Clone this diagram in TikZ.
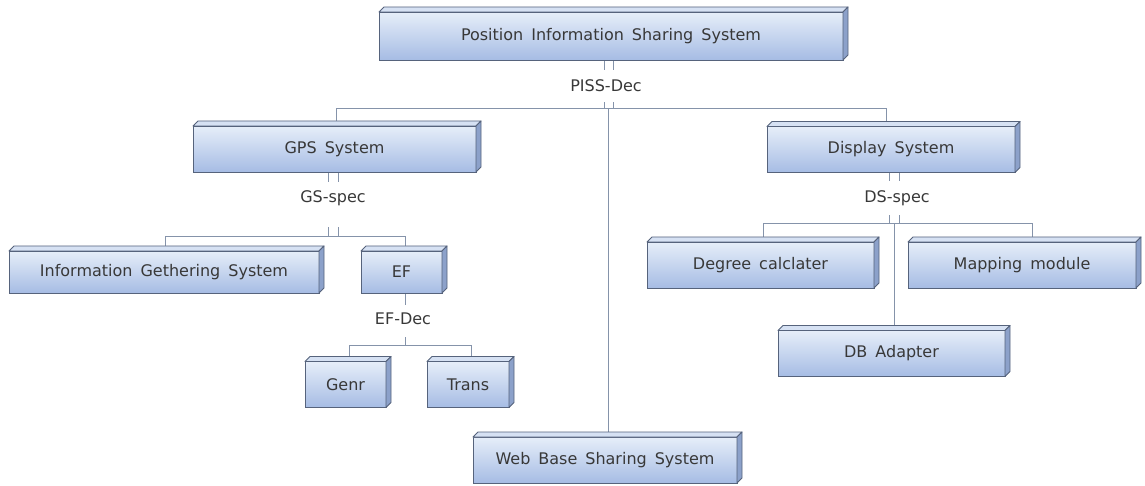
\documentclass[tikz,border=0pt]{standalone}
\usepackage{fontspec}
\setmainfont{DejaVu Sans}
\usetikzlibrary{calc}
\pgfdeclarelayer{bg}\pgfsetlayers{bg,main}
\definecolor{fronttop}{HTML}{E6EEF9}
\definecolor{frontbot}{HTML}{A6BCE4}
\definecolor{topc}{HTML}{D6E1F3}
\definecolor{sidec}{HTML}{8CA1CA}
\definecolor{edge}{HTML}{56637C}
\definecolor{linec}{HTML}{8593AA}
\definecolor{txt}{HTML}{383838}
\newcommand\cubefaces[1]{%
  \filldraw[fill=topc,draw=edge,line width=0.9pt,line join=round] (#1.north west) -- ++(5,-5) -- ($(#1.north east)+(5,-5)$) -- (#1.north east) -- cycle;
  \filldraw[fill=sidec,draw=edge,line width=0.9pt,line join=round] (#1.north east) -- ++(5,-5) -- ($(#1.south east)+(5,-5)$) -- (#1.south east) -- cycle;}
\newcommand\boxfont{\fontsize{16}{19}\selectfont\spaceskip=8pt plus 1pt\relax}
\newcommand\labfont{\fontsize{16}{19}\selectfont}
\begin{document}
\begin{tikzpicture}[x=1pt,y=-1pt,
  box/.style={draw=edge, line width=0.9pt, top color=fronttop, bottom color=frontbot,
    minimum height=46, inner sep=0, outer sep=0, text=txt, font=\boxfont},
  lab/.style={text=txt, inner sep=0, font=\labfont},
  conn/.style={draw=linec, line width=1pt}]
\useasboundingbox (0,0) rectangle (1145,486);
% boxes
\node[box, minimum width=464, minimum height=48] (piss) at (611,36) {Position Information Sharing System};
\node[box, minimum width=283] (gps) at (334.5,149) {GPS System};
\node[box, minimum width=248] (disp) at (891,149.5) {Display System};
\node[box, minimum width=310, minimum height=42] (igs) at (164,272) {Information Gethering System};
\node[box, minimum width=81, minimum height=42] (ef) at (401.5,272) {EF};
\node[box, minimum width=81] (genr) at (345.5,384.5) {Genr};
\node[box, minimum width=82] (trans) at (468,384.5) {Trans};
\node[box, minimum width=227] (deg) at (760.5,265) {Degree calclater};
\node[box, minimum width=228] (map) at (1022,265) {Mapping module};
\node[box, minimum width=227] (dba) at (891.5,353.5) {DB Adapter};
\node[box, minimum width=264] (web) at (605,460) {Web Base Sharing System};
\foreach \n in {piss,gps,disp,igs,ef,genr,trans,deg,map,dba,web} {\cubefaces{\n}}
% labels
\node[lab] (pissdec) at (606,86) {PISS-Dec};
\node[lab] (gsspec) at (333,198) {GS-spec};
\node[lab] (efdec) at (403,319) {EF-Dec};
\node[lab] (dsspec) at (897,198) {DS-spec};
% connectors
\begin{pgfonlayer}{bg}
\coordinate (pb) at (608.5,109);
\coordinate (pbl) at (336,109);
\coordinate (pbr) at (886,109);
\draw[conn] (gps.north -| pbl) -- (pbl) -- (pbr) -- (disp.north -| pbr);
\draw[conn] (pb) -- (web.north -| pb);
\foreach \dx in {-4.5,4.5} {
  \draw[conn] ($(piss.south -| pb)+(\dx,0)$) -- ++(0,10);
  \draw[conn] ($(pb)+(\dx,0)$) -- ++(0,-7);
}
\coordinate (gb) at (333,237);
\coordinate (gbl) at (165,237);
\coordinate (gbr) at (405,237);
\draw[conn] (igs.north -| gbl) -- (gbl) -- (gbr) -- (ef.north -| gbr);
\foreach \dx in {-5,5} {
  \draw[conn] ($(gps.south -| gb)+(\dx,0)$) -- ++(0,10);
  \draw[conn] ($(gb)+(\dx,0)$) -- ++(0,-10);
}
\coordinate (eb) at (405,345);
\coordinate (ebl) at (349,345);
\coordinate (ebr) at (471,345);
\draw[conn] (ef.south -| eb) -- ++(0,12);
\draw[conn] (eb) -- ++(0,-8);
\draw[conn] (genr.north -| ebl) -- (ebl) -- (ebr) -- (trans.north -| ebr);
\coordinate (db) at (894,224);
\coordinate (dbl) at (763,224);
\coordinate (dbr) at (1032,224);
\draw[conn] (deg.north -| dbl) -- (dbl) -- (dbr) -- (map.north -| dbr);
\draw[conn] (db) -- (dba.north -| db);
\foreach \dx in {-5,5} {
  \draw[conn] ($(disp.south -| db)+(\dx,0)$) -- ++(0,9);
  \draw[conn] ($(db)+(\dx,0)$) -- ++(0,-9);
}
\end{pgfonlayer}
\end{tikzpicture}
\end{document}
